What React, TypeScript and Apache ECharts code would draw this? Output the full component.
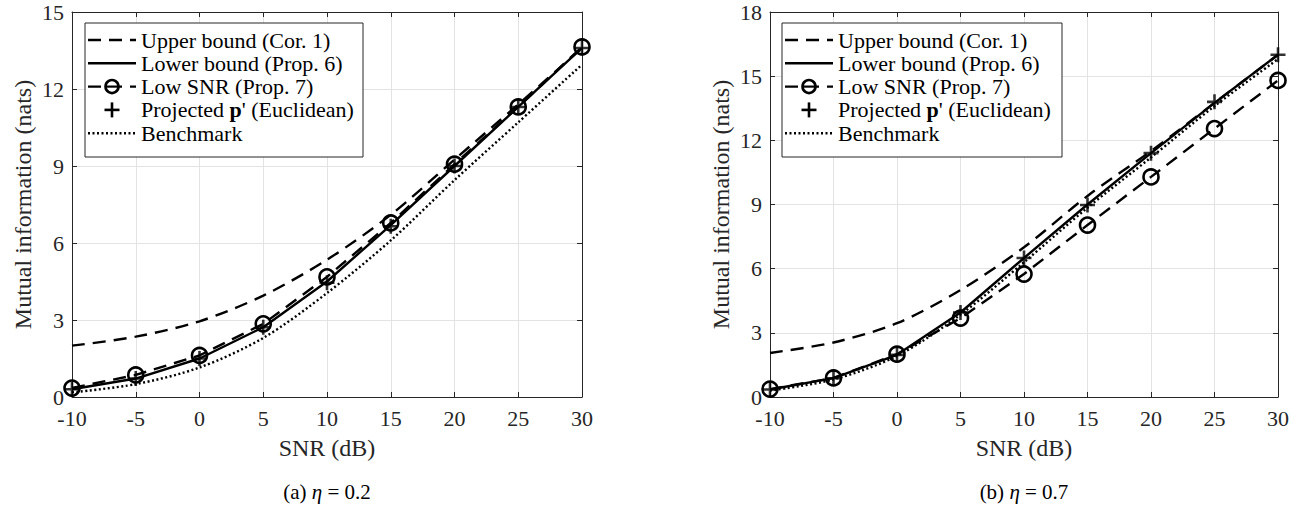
import React, { useEffect, useRef } from "react";
import * as echarts from "echarts";

// SNR (dB) sample points
const snr = [-10, -5, 0, 5, 10, 15, 20, 25, 30];

// (a) eta = 0.2
const upperA = [2.0, 2.35, 2.95, 3.95, 5.35, 7.1, 9.25, 11.4, 13.6];
const lowerA = [0.3, 0.72, 1.5, 2.72, 4.5, 6.7, 9.0, 11.3, 13.6];
const lowSnrA = [0.35, 0.86, 1.62, 2.85, 4.68, 6.78, 9.07, 11.3, 13.64];
const projA = [0.3, 0.72, 1.5, 2.72, 4.45, 6.65, 9.0, 11.3, 13.6];
const benchA = [0.18, 0.5, 1.15, 2.3, 4.05, 6.1, 8.45, 10.7, 12.95];

// (b) eta = 0.7
const upperB = [2.06, 2.55, 3.45, 5.0, 7.0, 9.4, 11.5, 13.75, 16.0];
const lowerB = [0.35, 0.88, 1.97, 3.95, 6.5, 9.0, 11.4, 13.75, 16.0];
const lowSnrB = [0.37, 0.89, 2.0, 3.69, 5.75, 8.04, 10.29, 12.55, 14.8];
const projB = [0.35, 0.88, 1.97, 3.95, 6.5, 8.98, 11.4, 13.8, 16.0];
const benchB = [0.3, 0.82, 1.92, 3.85, 6.3, 8.85, 11.2, 13.6, 15.8];

const seriesNames = [
  "Upper bound (Cor. 1)",
  "Lower bound (Prop. 6)",
  "Low SNR (Prop. 7)",
  "Projected p' (Euclidean)",
  "Benchmark",
];
const xLabel = "SNR (dB)";
const yLabel = "Mutual information (nats)";
const captions = ["(a) {i|η} = 0.2", "(b) {i|η} = 0.7"];
const yMaxA = 15;
const yMaxB = 18;

const FONT = '"Liberation Serif", "Times New Roman", serif';
const AX = "#262626";
const LW = 2.4;
const DASH = [13, 8];
const DOT = [2, 2.5];
const PLUS = "path://M5 0L5 10M0 5L10 5";

const pairs = (ys: number[]) => snr.map((x, i) => [x, ys[i]]);

function makeSeries(xi: number, yi: number, up: number[], lo: number[], ls: number[], pr: number[], be: number[]) {
  const base = { xAxisIndex: xi, yAxisIndex: yi, silent: true, emphasis: { disabled: true }, color: "#000" };
  return [
    {
      ...base, type: "line", name: seriesNames[0], data: pairs(up), symbol: "none", smooth: 0.3,
      lineStyle: { color: "#000", width: LW, type: DASH },
    },
    {
      ...base, type: "line", name: seriesNames[1], data: pairs(lo), symbol: "none",
      lineStyle: { color: "#000", width: LW, type: "solid" },
    },
    {
      ...base, type: "line", name: seriesNames[2], data: pairs(ls), symbol: "circle", symbolSize: 15,
      lineStyle: { color: "#000", width: LW, type: DASH },
      itemStyle: { color: "transparent", borderColor: "#000", borderWidth: 2.6 },
    },
    {
      ...base, type: "line", name: seriesNames[4], data: pairs(be), symbol: "none", smooth: 0.3,
      lineStyle: { color: "#000", width: LW, type: DOT },
    },
    {
      ...base, type: "scatter", name: seriesNames[3], data: pairs(pr), symbol: PLUS, symbolSize: 15,
      itemStyle: { color: "transparent", borderColor: "#000", borderWidth: 2.6 },
      z: 5,
    },
  ];
}

function xAxes(grid: number) {
  const common = {
    gridIndex: grid, type: "value", min: -10, max: 30, interval: 5,
    axisLine: { show: true, onZero: false, lineStyle: { color: AX, width: 1 } },
    axisTick: { show: true, inside: true, length: 5, lineStyle: { color: AX } },
  };
  return [
    {
      ...common, position: "bottom",
      axisLabel: { show: true, margin: 10, color: AX, fontFamily: FONT, fontSize: 22 },
      splitLine: { show: true, lineStyle: { color: "#e3e3e3", width: 1 } },
      name: xLabel, nameLocation: "middle", nameGap: 39,
      nameTextStyle: { color: AX, fontFamily: FONT, fontSize: 24 },
    },
    { ...common, position: "top", axisLabel: { show: false }, splitLine: { show: false } },
  ];
}

function yAxes(grid: number, max: number) {
  const common = {
    gridIndex: grid, type: "value", min: 0, max, interval: 3,
    axisLine: { show: true, onZero: false, lineStyle: { color: AX, width: 1 } },
    axisTick: { show: true, inside: true, length: 5, lineStyle: { color: AX } },
  };
  return [
    {
      ...common, position: "left",
      axisLabel: { show: true, margin: 8, color: AX, fontFamily: FONT, fontSize: 22 },
      splitLine: { show: true, lineStyle: { color: "#e3e3e3", width: 1 } },
      name: yLabel, nameLocation: "middle", nameGap: 37,
      nameTextStyle: { color: AX, fontFamily: FONT, fontSize: 24 },
    },
    { ...common, position: "right", axisLabel: { show: false }, splitLine: { show: false } },
  ];
}

function legendGraphic(x: number, y: number, w: number, h: number) {
  const rowH = 23.3;
  const cy0 = y + 17;
  const lx1 = x + 3;
  const lx2 = x + 51;
  const mid = (lx1 + lx2) / 2;
  const tx = x + 56;
  const children: any[] = [
    { type: "rect", z: 100, shape: { x, y, width: w, height: h }, style: { fill: "#fff", stroke: AX, lineWidth: 1 } },
  ];
  const styles = [DASH, null, DASH, "none", DOT];
  seriesNames.forEach((name, i) => {
    const cy = cy0 + i * rowH;
    const st = styles[i];
    if (st !== "none") {
      children.push({
        type: "line", z: 101,
        shape: { x1: lx1, y1: cy, x2: lx2, y2: cy },
        style: { stroke: "#000", lineWidth: LW, lineDash: st || undefined },
      });
    }
    if (i === 2) {
      children.push({ type: "circle", z: 102, shape: { cx: mid, cy, r: 6.5 }, style: { fill: "#fff", stroke: "#000", lineWidth: 2.6 } });
      children.push({ type: "line", z: 103, shape: { x1: mid - 6.5, y1: cy, x2: mid + 6.5, y2: cy }, style: { stroke: "#000", lineWidth: 2.2 } });
    }
    if (i === 3) {
      children.push({ type: "line", z: 101, shape: { x1: mid - 7.5, y1: cy, x2: mid + 7.5, y2: cy }, style: { stroke: "#000", lineWidth: 2.6 } });
      children.push({ type: "line", z: 101, shape: { x1: mid, y1: cy - 7.5, x2: mid, y2: cy + 7.5 }, style: { stroke: "#000", lineWidth: 2.6 } });
    }
    const label = i === 3 ? "Projected {b|p}' (Euclidean)" : name;
    children.push({
      type: "text", z: 101, x: tx, y: cy,
      style: {
        text: label, fill: "#000", fontFamily: FONT, fontSize: 22, verticalAlign: "middle", textAlign: "left",
        rich: { b: { fontWeight: "bold", fontFamily: FONT, fontSize: 22, fill: "#000" } },
      },
    });
  });
  return { type: "group", z: 100, silent: true, children };
}

function captionGraphic(cx: number, cy: number, text: string) {
  return {
    type: "text", x: cx, y: cy, silent: true,
    style: {
      text, fill: "#000", fontFamily: FONT, fontSize: 21, textAlign: "center", verticalAlign: "middle",
      rich: { i: { fontStyle: "italic", fontFamily: FONT, fontSize: 21, fill: "#000" } },
    },
  };
}

export default function App() {
  const ref = useRef<HTMLDivElement>(null);
  useEffect(() => {
    const chart = echarts.init(ref.current!, null, { renderer: "svg" });
    const option: any = {
      animation: false,
      backgroundColor: "#fff",
      grid: [
        { left: 72, top: 12, width: 510, height: 385 },
        { left: 770, top: 12, width: 508, height: 385 },
      ],
      xAxis: [...xAxes(0), ...xAxes(1)],
      yAxis: [...yAxes(0, yMaxA), ...yAxes(1, yMaxB)],
      series: [
        ...makeSeries(0, 0, upperA, lowerA, lowSnrA, projA, benchA),
        ...makeSeries(2, 2, upperB, lowerB, lowSnrB, projB, benchB),
      ],
      graphic: [
        legendGraphic(85, 23, 278, 134),
        legendGraphic(782, 23, 280, 134),
        captionGraphic(327, 492, captions[0]),
        captionGraphic(1024, 492, captions[1]),
      ],
    };
    chart.setOption(option);
    return () => chart.dispose();
  }, []);
  return (
    <div
      ref={ref}
      style={{ position: "fixed", left: 0, top: 0, width: 1308, height: 517, background: "#fff" }}
    />
  );
}
